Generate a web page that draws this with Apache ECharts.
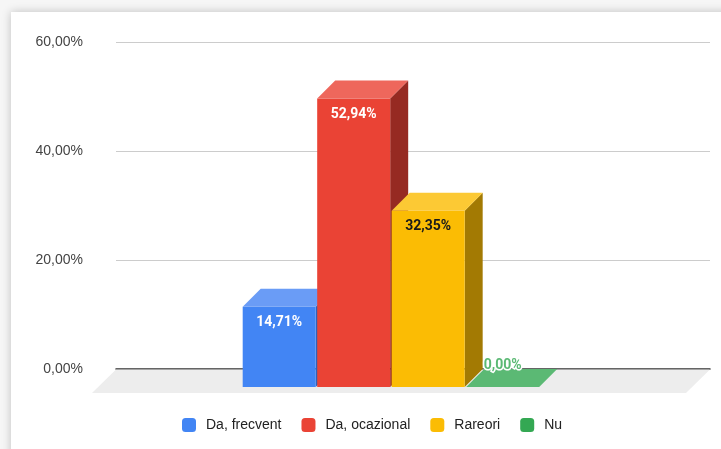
<!DOCTYPE html>
<html><head><meta charset="utf-8">
<script src="https://cdn.jsdelivr.net/npm/echarts@6/dist/echarts.min.js"></script>
<style>
html,body{margin:0;padding:0;width:721px;height:449px;overflow:hidden;background:#f6f6f6;}
#card{position:absolute;left:11px;top:12px;width:760px;height:500px;background:#fff;box-shadow:0 0 9px rgba(0,0,0,0.22);}
#chart{position:absolute;left:0;top:0;width:721px;height:449px;}
</style></head><body>
<div id="card"></div><div id="chart"></div>
<script>
// ---- data ----
const categories = [''];
const seriesNames = ['Da, frecvent', 'Da, ocazional', 'Rareori', 'Nu'];
const seriesValues = [0.1471, 0.5294, 0.3235, 0.0];
const yTickValues = [0, 0.2, 0.4, 0.6];

// ---- styles ----
const frontColors = ['#4285f4', '#ea4335', '#fbbc04', '#34a853'];
const topColors   = ['#6a9cf6', '#ee675c', '#fcc934', '#5bb974'];
const sideColors  = ['#2f62b8', '#962a22', '#a37a03', '#23743a'];
const labelColors = ['#ffffff', '#ffffff', '#1a1a1a', '#5bb974'];

function fmtPct(v){ return (v*100).toFixed(2).replace('.', ',') + '%'; }

const DX = 18, DY = 18;            // 3D depth offset (px)
const BAR_W = 0.1229;              // bar width as fraction of band
const STEP = 0.1254;               // bar step as fraction of band
const GROUP_LEFT = -0.2564;        // group left edge relative to band center

function makeRender(i){
  return function(params, api){
    const v = api.value(1);
    const band = api.size([1, 0])[0];
    const c = api.coord([api.value(0), v]);
    const b = api.coord([api.value(0), 0]);
    const x0b = c[0] + band * (GROUP_LEFT + i * STEP);
    const x1b = x0b + band * BAR_W;
    const x0f = x0b - DX, x1f = x1b - DX;
    const topB = c[1], baseB = b[1];
    const topF = topB + DY, baseF = baseB + DY;
    const children = [];
    children.push({type:'polygon', shape:{points:[[x1f,topF],[x1b,topB],[x1b,baseB],[x1f,baseF]]}, style:{fill:sideColors[i]}});
    children.push({type:'rect', shape:{x:x0f, y:topF, width:x1f-x0f, height:baseF-topF}, style:{fill:frontColors[i]}});
    children.push({type:'polygon', shape:{points:[[x0f,topF],[x1f,topF],[x1b,topB],[x0b,topB]]}, style:{fill:topColors[i]}});
    const inside = (baseF - topF) > 30;
    children.push({type:'text', style:{
      text: fmtPct(v), x:(x0f+x1f)/2, y: inside ? topF + 16 : topB - 4,
      align:'center', verticalAlign:'middle',
      fontFamily:'Roboto', fontWeight:'bold', fontSize:14,
      fill: labelColors[i], stroke: inside ? null : '#ffffff', lineWidth: inside ? 0 : 3
    }});
    return {type:'group', children};
  };
}

const series = [{
  type:'custom', name:'floor', silent:true, z:1,
  data:[[0, 0]],
  renderItem: function(params, api){
    const cs = params.coordSys;
    const base = api.coord([0, 0])[1];
    return {type:'polygon', shape:{points:[[cs.x, base+0.5],[cs.x+cs.width, base+0.5],[cs.x+cs.width-24, base+24],[cs.x-24, base+24]]}, style:{fill:'#ededed'}};
  }
}];
seriesNames.forEach((n, i) => {
  series.push({
    type:'custom', name:n, z:3,
    itemStyle:{color:frontColors[i]},
    data:[[0, seriesValues[i]]],
    encode:{x:0, y:1},
    renderItem: makeRender(i)
  });
});

const chart = echarts.init(document.getElementById('chart'), null, {renderer:'canvas'});
chart.setOption({
  backgroundColor:'transparent',
  animation:false,
  grid:{left:116, right:11, top:42, bottom:80},
  xAxis:{type:'category', data:categories, boundaryGap:true,
    axisLine:{show:true, lineStyle:{color:'#333', width:1.5}}, axisTick:{show:false}, axisLabel:{show:false}, splitLine:{show:false}},
  yAxis:{type:'value', min:yTickValues[0], max:yTickValues[yTickValues.length-1], interval:0.2,
    axisLine:{show:false}, axisTick:{show:false},
    axisLabel:{formatter:fmtPct, margin:33, color:'#444', fontSize:14, fontFamily:'Liberation Sans'},
    splitLine:{lineStyle:{color:'#cccccc', width:1}}},
  legend:{data:seriesNames, left:177, top:413, icon:'roundRect', itemWidth:14, itemHeight:14, itemGap:20,
    textStyle:{color:'#222', fontSize:14, fontFamily:'Liberation Sans', padding:[0,0,0,5]}},
  series
});
</script>
</body></html>
